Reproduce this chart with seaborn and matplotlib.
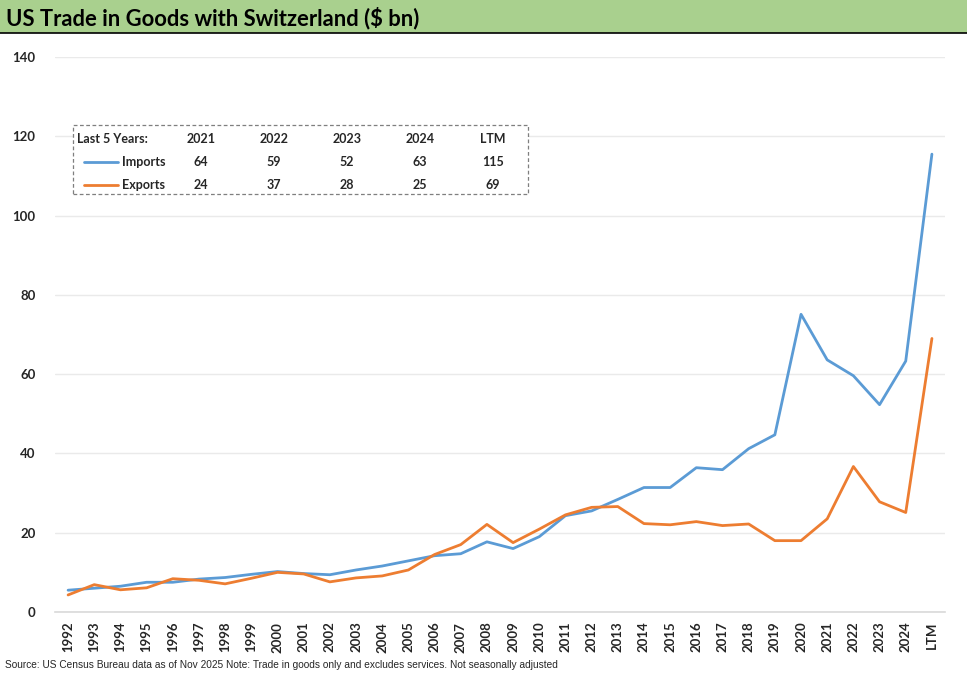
import matplotlib
matplotlib.use("Agg")
import matplotlib.pyplot as plt
import seaborn as sns
import pandas as pd
from matplotlib.lines import Line2D
from matplotlib.patches import Rectangle

# ---- data ----
years = [str(y) for y in range(1992, 2025)] + ["LTM"]
imports = [5.5, 6.0, 6.5, 7.5, 7.5, 8.3, 8.7, 9.5, 10.2, 9.7, 9.4, 10.6, 11.6,
           12.9, 14.2, 14.7, 17.7, 16.0, 19.0, 24.3, 25.5, 28.4, 31.4, 31.4,
           36.4, 35.9, 41.2, 44.7, 75.1, 63.6, 59.6, 52.3, 63.3, 115.5]
exports = [4.3, 6.9, 5.6, 6.1, 8.4, 8.0, 7.1, 8.5, 10.0, 9.6, 7.6, 8.6, 9.1,
           10.6, 14.5, 17.0, 22.1, 17.5, 20.9, 24.5, 26.4, 26.6, 22.3, 22.0,
           22.8, 21.8, 22.2, 18.0, 18.0, 23.5, 36.7, 27.8, 25.1, 69.0]
series_names = ["Imports", "Exports"]
series_colors = ["#5B9BD5", "#ED7D31"]
table_cols = ["2021", "2022", "2023", "2024", "LTM"]
table_imports = [64, 59, 52, 63, 115]
table_exports = [24, 37, 28, 25, 69]
title = "US Trade in Goods with Switzerland ($ bn)"
source = ("Source: US Census Bureau data as of Nov 2025 Note: Trade in goods only "
          "and excludes services. Not seasonally adjusted")

sns.set_theme(style="white")
plt.rcParams['font.family'] = ['Lato', 'DejaVu Sans']

W, H = 967, 675
fig = plt.figure(figsize=(W / 100, H / 100), dpi=100)
fig.patch.set_facecolor("white")

# title bar
fig.patches.append(Rectangle((0, (H - 33) / H), 1, 33 / H, transform=fig.transFigure,
                             facecolor="#A9D08E", edgecolor="none", zorder=0))
fig.lines.append(Line2D([0, 1], [(H - 33) / H] * 2, transform=fig.transFigure,
                        color="black", lw=1.2))
fig.text(6 / W, (H - 18) / H, title, fontsize=15.8, fontweight="bold",
         va="center", ha="left", color="black")

ax = fig.add_axes([55 / W, (H - 612) / H, 890 / W, 555 / H])
n = len(years)
df = pd.DataFrame({
    "idx": list(range(n)) * 2,
    "value": imports + exports,
    "series": [series_names[0]] * n + [series_names[1]] * n,
})
sns.lineplot(data=df, x="idx", y="value", hue="series",
             palette=dict(zip(series_names, series_colors)),
             linewidth=2, ax=ax, legend=False)
ax.set_xlim(-0.5, n - 0.5)
ax.set_ylim(0, 140)
ax.set_yticks(range(0, 141, 20))
ax.set_yticklabels([str(v) for v in range(0, 141, 20)], fontweight="bold", fontsize=9.5)
ax.set_xticks(range(n))
ax.set_xticklabels(years, rotation=90, fontweight="bold", fontsize=9.5)
ax.tick_params(axis="y", length=0, pad=14)
ax.tick_params(axis="x", length=0, pad=7)
ax.grid(axis="y", color="#EAEAEA", lw=1)
ax.grid(axis="x", visible=False)
for s in ["top", "right", "left"]:
    ax.spines[s].set_visible(False)
ax.spines["bottom"].set_color("#D9D9D9")
ax.spines["bottom"].set_linewidth(1.2)
ax.set_xlabel("")
ax.set_ylabel("")

# legend table
bx0, by0, bx1, by1 = 73, 125, 528, 194
fig.patches.append(Rectangle((bx0 / W, (H - by1) / H), (bx1 - bx0) / W, (by1 - by0) / H,
                             transform=fig.transFigure, facecolor="white",
                             edgecolor="#7F7F7F", lw=0.9, linestyle=(0, (3, 2)),
                             zorder=5))
rows_y = [139, 162, 185]
col_x = [201, 274, 347, 420, 493]
tk = dict(fontsize=9, fontweight="bold", va="center", zorder=6)
fig.text(77 / W, (H - rows_y[0]) / H, "Last 5 Years:", ha="left", **tk)
for cx, c in zip(col_x, table_cols):
    fig.text(cx / W, (H - rows_y[0]) / H, c, ha="center", **tk)
for ry, name, col, vals in zip(rows_y[1:], series_names, series_colors,
                               [table_imports, table_exports]):
    fig.lines.append(Line2D([84 / W, 118 / W], [(H - ry) / H] * 2,
                            transform=fig.transFigure, color=col, lw=2, zorder=6))
    fig.text(122 / W, (H - ry) / H, name, ha="left", **tk)
    for cx, v in zip(col_x, vals):
        fig.text(cx / W, (H - ry) / H, str(v), ha="center", **tk)

fig.text(5 / W, (H - 665) / H, source, fontsize=7.3, ha="left", va="center",
         family=["Liberation Sans", "DejaVu Sans"])

fig.savefig("out.png", dpi=100)
